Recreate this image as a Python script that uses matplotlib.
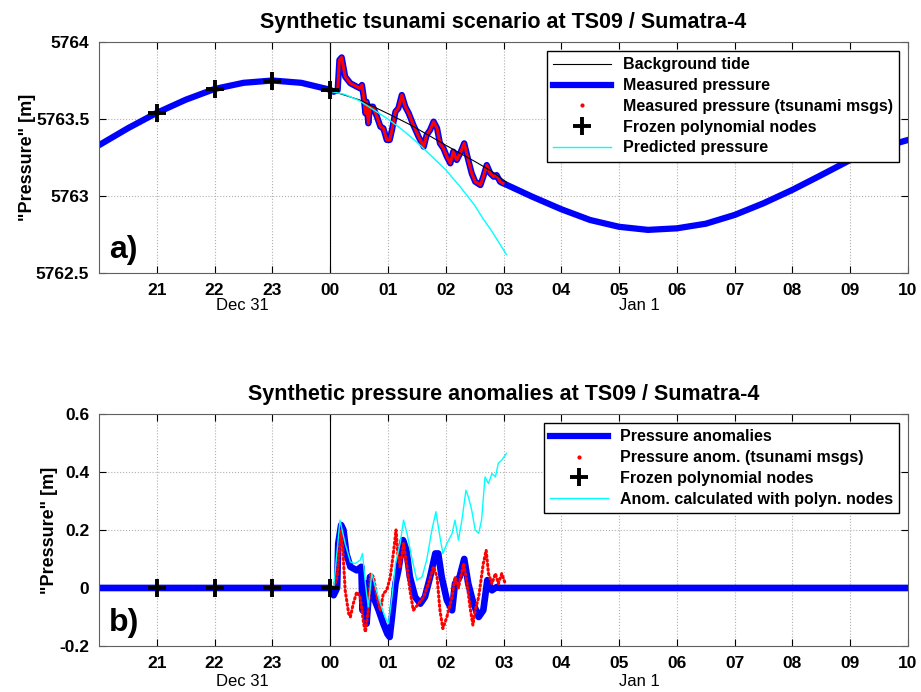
import numpy as np
import matplotlib.pyplot as plt
from matplotlib.lines import Line2D

plt.rcParams['font.family'] = ['Liberation Sans', 'DejaVu Sans']

# time axis: hours relative to 00:00 Jan 1
hour_ticks = [-3, -2, -1, 0, 1, 2, 3, 4, 5, 6, 7, 8, 9, 10]
hour_labels = ['21', '22', '23', '00', '01', '02', '03', '04', '05', '06', '07', '08', '09', '10']

# measured pressure, quiet tide before and after the event
tide_pre_t = [-4.0, -3.5, -3.0, -2.5, -2.0, -1.5, -1.0, -0.5, 0.0]
tide_pre_v = [5763.33, 5763.44, 5763.54, 5763.625, 5763.695, 5763.735, 5763.75, 5763.735, 5763.69]
tide_post_t = [3.0, 3.5, 4.0, 4.5, 5.0, 5.5, 6.0, 6.5, 7.0, 7.5, 8.0, 8.5, 9.0, 9.5, 10.0]
tide_post_v = [5763.082, 5762.995, 5762.914, 5762.844, 5762.80, 5762.78, 5762.79, 5762.82,
               5762.877, 5762.953, 5763.04, 5763.136, 5763.234, 5763.31, 5763.364]

# measured pressure during the tsunami (also sent as tsunami msgs)
tsu_t = [0.06, 0.13, 0.16, 0.20, 0.26, 0.35, 0.46, 0.52, 0.55, 0.58, 0.61, 0.63, 0.66, 0.69,
         0.74, 0.81, 0.87, 0.92, 0.98, 1.03, 1.07, 1.13, 1.18, 1.24, 1.30, 1.36, 1.44, 1.53,
         1.62, 1.67, 1.73, 1.79, 1.85, 1.90, 1.96, 2.02, 2.08, 2.13, 2.19, 2.25, 2.32, 2.39,
         2.45, 2.51, 2.60, 2.65, 2.71, 2.77, 2.83, 2.88, 2.94, 2.99]
tsu_v = [5763.677, 5763.688, 5763.883, 5763.900, 5763.775, 5763.732, 5763.710, 5763.699,
         5763.721, 5763.645, 5763.537, 5763.612, 5763.472, 5763.580, 5763.580, 5763.515,
         5763.450, 5763.440, 5763.364, 5763.364, 5763.429, 5763.548, 5763.569, 5763.656,
         5763.580, 5763.537, 5763.461, 5763.385, 5763.320, 5763.396, 5763.429, 5763.483,
         5763.440, 5763.342, 5763.310, 5763.255, 5763.212, 5763.288, 5763.234, 5763.277,
         5763.342, 5763.234, 5763.147, 5763.093, 5763.071, 5763.125, 5763.201, 5763.147,
         5763.125, 5763.136, 5763.093, 5763.082]

# background tide and predicted pressure over the event window
bg_t = [0.0, 0.5, 1.0, 1.4, 2.0, 2.5, 2.8, 3.05]
bg_v = [5763.685, 5763.625, 5763.535, 5763.46, 5763.33, 5763.225, 5763.16, 5763.09]
pred_t = [0.0, 0.25, 0.5, 0.75, 1.0, 1.25, 1.5, 1.75, 2.0, 2.25, 2.5, 2.65, 2.8, 3.05]
pred_v = [5763.68, 5763.66, 5763.62, 5763.56, 5763.50, 5763.43, 5763.35, 5763.26,
          5763.17, 5763.06, 5762.94, 5762.85, 5762.77, 5762.62]

# frozen polynomial nodes
node_t = [-3, -2, -1, 0]
node_v = [5763.541, 5763.693, 5763.747, 5763.688]
node_anom = [0, 0, 0, 0]

# anomalies
anom_t = [-4.0, 0.0, 0.06, 0.12, 0.14, 0.19, 0.23, 0.28, 0.35, 0.46, 0.54, 0.56, 0.61, 0.63,
          0.69, 0.75, 0.84, 0.92, 0.99, 1.03, 1.07, 1.13, 1.18, 1.26, 1.32, 1.38, 1.47, 1.56,
          1.64, 1.73, 1.82, 1.87, 1.93, 2.02, 2.11, 2.16, 2.24, 2.32, 2.39, 2.48, 2.57, 2.65,
          2.72, 2.80, 2.88, 2.94, 3.03, 10.0]
anom_v = [0.0, 0.0, -0.025, 0.0, 0.153, 0.217, 0.2, 0.119, 0.073, 0.061, 0.073, -0.077, 0.015,
          -0.123, 0.038, -0.031, -0.077, -0.123, -0.158, -0.169, -0.1, 0.015, 0.061, 0.165,
          0.13, 0.038, -0.031, -0.054, -0.031, 0.038, 0.119, 0.119, 0.038, -0.042, -0.077,
          0.015, 0.038, 0.1, 0.015, -0.054, -0.1, -0.077, 0.027, -0.008, 0.003, 0.0, 0.0, 0.0]

msg_anom_t = [0.06, 0.12, 0.19, 0.22, 0.26, 0.32, 0.35, 0.40, 0.46, 0.52, 0.58, 0.61, 0.66,
              0.70, 0.75, 0.81, 0.87, 0.92, 0.98, 1.04, 1.10, 1.14, 1.17, 1.21, 1.27, 1.33,
              1.38, 1.44, 1.53, 1.62, 1.70, 1.79, 1.85, 1.90, 1.95, 2.02, 2.11, 2.16, 2.22,
              2.31, 2.37, 2.42, 2.47, 2.51, 2.57, 2.65, 2.70, 2.74, 2.80, 2.86, 2.91, 2.97, 3.03]
msg_anom_v = [0.0, 0.038, 0.2, 0.13, -0.008, -0.088, -0.1, -0.054, -0.014, -0.031, -0.123,
              -0.152, -0.077, 0.05, 0.038, -0.031, -0.077, -0.019, -0.008, 0.038, 0.13, 0.2,
              0.119, 0.073, 0.153, 0.073, -0.008, -0.077, -0.054, -0.031, 0.015, 0.073, 0.038,
              -0.077, -0.14, -0.1, -0.031, 0.038, 0.0, 0.084, 0.015, -0.065, -0.128, -0.077,
              -0.031, 0.084, 0.13, 0.05, 0.015, 0.05, 0.015, 0.05, 0.015]

poly_anom_t = [0.06, 0.17, 0.26, 0.35, 0.43, 0.52, 0.56, 0.61, 0.66, 0.72, 0.80, 0.87, 0.95,
               1.01, 1.07, 1.13, 1.21, 1.27, 1.33, 1.41, 1.50, 1.59, 1.67, 1.76, 1.83, 1.89,
               1.95, 2.02, 2.11, 2.16, 2.22, 2.28, 2.35, 2.39, 2.45, 2.51, 2.57, 2.62, 2.68,
               2.74, 2.80, 2.86, 2.91, 2.97, 3.05]
poly_anom_v = [0.0, 0.234, 0.153, 0.09, 0.084, 0.096, 0.119, 0.015, -0.065, 0.05, -0.008,
               -0.054, -0.1, -0.123, -0.031, 0.084, 0.153, 0.234, 0.188, 0.107, 0.027, 0.038,
               0.096, 0.2, 0.263, 0.188, 0.119, 0.153, 0.188, 0.234, 0.165, 0.234, 0.337, 0.315,
               0.268, 0.2, 0.188, 0.234, 0.383, 0.36, 0.395, 0.383, 0.43, 0.441, 0.464]

meas_t = tide_pre_t + tsu_t + tide_post_t
meas_v = tide_pre_v + tsu_v + tide_post_v

fig = plt.figure(figsize=(9.21, 6.92), dpi=100)
ax1 = fig.add_axes([0.1075, 0.6055, 0.8784, 0.3338])
ax2 = fig.add_axes([0.1075, 0.0665, 0.8784, 0.3353])

blue = '#0000ff'
cyan = '#00ffff'
leg_kw = dict(loc='upper right', bbox_to_anchor=(0.989, 0.961), borderaxespad=0,
              fancybox=False, framealpha=1, edgecolor='black',
              prop={'weight': 'bold', 'size': 11.5}, handlelength=3.6, labelspacing=0.36,
              borderpad=0.4, handletextpad=0.75)

# ---- a) ----
ax1.plot(meas_t, meas_v, color=blue, lw=4.5, zorder=2)
ax1.plot(tsu_t, tsu_v, color='red', lw=2.2, zorder=3)
ax1.plot(bg_t, bg_v, color='black', lw=0.8, zorder=4)
ax1.plot(pred_t, pred_v, color=cyan, lw=1.0, zorder=4)
ax1.plot(node_t, node_v, '+', color='black', ms=13, mew=2.8, zorder=5)
ax1.set_ylim(5762.5, 5764)
ax1.set_yticks([5762.5, 5763, 5763.5, 5764])
ax1.set_yticklabels(['5762.5', '5763', '5763.5', '5764'])
ax1.set_title('Synthetic tsunami scenario at TS09 / Sumatra-4', fontsize=15.5,
              fontweight='bold', pad=10)
ax1.text(0.012, 0.035, 'a)', transform=ax1.transAxes, fontsize=23, fontweight='bold',
         va='bottom', ha='left')
leg1_handles = [
    Line2D([], [], color='black', lw=0.8),
    Line2D([], [], color=blue, lw=4.5),
    Line2D([], [], color='red', marker='.', ms=4, ls='None'),
    Line2D([], [], color='black', marker='+', ms=13, mew=2.8, ls='None'),
    Line2D([], [], color=cyan, lw=1.0),
]
leg1_labels = ['Background tide', 'Measured pressure', 'Measured pressure (tsunami msgs)',
               'Frozen polynomial nodes', 'Predicted pressure']
ax1.legend(leg1_handles, leg1_labels, **leg_kw)

# ---- b) ----
ax2.plot(anom_t, anom_v, color=blue, lw=4.8, zorder=2)
ax2.plot(msg_anom_t, msg_anom_v, color='red', lw=2.2, ls=(0, (0.5, 1.0)),
         dash_capstyle='round', zorder=3)
ax2.plot(poly_anom_t, poly_anom_v, color=cyan, lw=1.0, zorder=4)
ax2.plot(node_t, node_anom, '+', color='black', ms=13, mew=2.8, zorder=5)
ax2.set_ylim(-0.2, 0.6)
ax2.set_yticks([-0.2, 0, 0.2, 0.4, 0.6])
ax2.set_yticklabels(['-0.2', '0', '0.2', '0.4', '0.6'])
ax2.set_title('Synthetic pressure anomalies at TS09 / Sumatra-4', fontsize=15.5,
              fontweight='bold', pad=10)
ax2.text(0.012, 0.035, 'b)', transform=ax2.transAxes, fontsize=23, fontweight='bold',
         va='bottom', ha='left')
leg2_handles = [
    Line2D([], [], color=blue, lw=4.5),
    Line2D([], [], color='red', marker='.', ms=4, ls='None'),
    Line2D([], [], color='black', marker='+', ms=13, mew=2.8, ls='None'),
    Line2D([], [], color=cyan, lw=1.0),
]
leg2_labels = ['Pressure anomalies', 'Pressure anom. (tsunami msgs)',
               'Frozen polynomial nodes', 'Anom. calculated with polyn. nodes']
ax2.legend(leg2_handles, leg2_labels, **leg_kw)

for ax, date_off, lpad in ((ax1, -33, 0), (ax2, -36, 1)):
    ax.axvline(0, color='black', lw=0.8, zorder=1)
    ax.set_xlim(-4, 10)
    ax.set_xticks(hour_ticks)
    ax.set_xticklabels(hour_labels)
    ax.grid(True, color='#b0b0b0', ls=':', lw=0.8)
    ax.set_axisbelow(True)
    ax.tick_params(direction='in', top=True, right=True, length=5, width=0.8,
                   labelsize=12.5, pad=7)
    for lab in ax.get_xticklabels() + ax.get_yticklabels():
        lab.set_fontweight('bold')
    for sp in ax.spines.values():
        sp.set_color('#606060')
    ax.set_ylabel('"Pressure" [m]', fontsize=13, fontweight='bold', labelpad=lpad)
    for x, txt in ((-1.52, 'Dec 31'), (5.35, 'Jan 1')):
        ax.annotate(txt, xy=(x, 0), xycoords=('data', 'axes fraction'),
                    xytext=(0, date_off * 0.72), textcoords='offset points',
                    ha='center', va='center', fontsize=12)

fig.savefig('out.png', dpi=100)
